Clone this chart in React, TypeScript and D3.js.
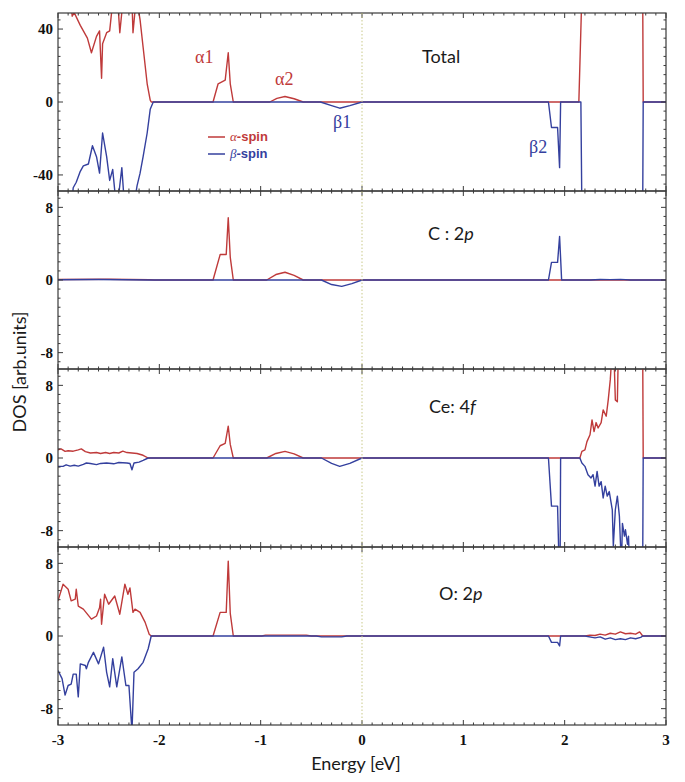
import { useEffect, useRef } from "react";
import * as d3 from "d3";

type Pt = [number, number];

// energy [eV], DOS value; values past the axis limit are clipped by the panel
const totalAlpha: Pt[] = [
  [-3.0, 60], [-2.88, 60], [-2.86, 47], [-2.84, 49], [-2.78, 42], [-2.71, 35], [-2.67, 27],
  [-2.62, 36], [-2.59, 39], [-2.57, 13], [-2.56, 32], [-2.52, 38], [-2.49, 39], [-2.46, 55],
  [-2.41, 55], [-2.39, 38], [-2.36, 55], [-2.27, 55], [-2.26, 38], [-2.24, 50], [-2.21, 52],
  [-2.19, 45], [-2.16, 30], [-2.12, 10], [-2.09, 1], [-2.08, 0], [-1.47, 0], [-1.42, 10],
  [-1.35, 12], [-1.32, 27], [-1.30, 10], [-1.27, 0], [-0.91, 0], [-0.84, 2], [-0.76, 3],
  [-0.67, 1.8], [-0.58, 0], [2.14, 0], [2.17, 60], [2.77, 60], [2.775, 0], [3.0, 0],
];
const totalBeta: Pt[] = [
  [-3.0, -60], [-2.87, -60], [-2.85, -47], [-2.82, -44], [-2.78, -38], [-2.75, -35],
  [-2.70, -34], [-2.66, -24], [-2.62, -30], [-2.59, -39], [-2.56, -17], [-2.52, -30],
  [-2.49, -43], [-2.46, -37], [-2.42, -60], [-2.37, -36], [-2.34, -60], [-2.26, -60],
  [-2.22, -46], [-2.19, -39], [-2.16, -30], [-2.12, -17], [-2.09, -4], [-2.06, 0],
  [-0.41, 0], [-0.30, -2], [-0.22, -3.4], [-0.12, -2], [0, 0], [1.84, 0], [1.87, -14],
  [1.93, -14], [1.95, -36], [1.96, 0], [2.16, 0], [2.17, -60], [2.77, -60], [2.775, 0], [3.0, 0],
];
const c2pAlpha: Pt[] = [
  [-3.0, 0.05], [-2.5, 0.08], [-2.1, 0.02], [-2.05, 0], [-1.47, 0], [-1.40, 2.8], [-1.34, 2.8],
  [-1.32, 6.85], [-1.30, 2.5], [-1.27, 0], [-0.94, 0], [-0.85, 0.6], [-0.76, 0.85],
  [-0.67, 0.5], [-0.58, 0], [3.0, 0],
];
const c2pBeta: Pt[] = [
  [-3.0, 0.03], [-2.6, 0.06], [-2.1, 0], [-0.40, 0], [-0.30, -0.5], [-0.20, -0.7],
  [-0.10, -0.4], [0, 0], [1.84, 0], [1.87, 1.94], [1.93, 1.94], [1.95, 4.8], [1.97, 0],
  [2.25, 0], [2.35, 0.06], [2.45, 0.04], [2.55, 0.07], [2.65, 0], [3.0, 0],
];
const ce4fAlpha: Pt[] = [
  [-3.0, 0.9], [-2.97, 1.0], [-2.93, 0.73], [-2.90, 0.8], [-2.85, 0.75], [-2.80, 0.9],
  [-2.77, 1.0], [-2.73, 0.7], [-2.68, 0.55], [-2.62, 0.6], [-2.58, 0.5], [-2.53, 0.6],
  [-2.49, 0.5], [-2.45, 0.6], [-2.40, 0.55], [-2.36, 0.75], [-2.32, 0.6], [-2.27, 0.55],
  [-2.22, 0.5], [-2.16, 0.3], [-2.11, 0], [-1.47, 0], [-1.40, 1.35], [-1.35, 1.6],
  [-1.32, 3.5], [-1.30, 1.5], [-1.27, 0], [-0.94, 0], [-0.85, 0.5], [-0.76, 0.73],
  [-0.67, 0.45], [-0.58, 0], [2.15, 0], [2.17, 0.73], [2.20, 0.9], [2.22, 1.8], [2.25, 2.56],
  [2.27, 4.2], [2.29, 2.9], [2.31, 3.9], [2.33, 3.3], [2.36, 3.9], [2.38, 5.3], [2.41, 4.6],
  [2.43, 6.4], [2.45, 8.6], [2.47, 12], [2.485, 12], [2.50, 6.4], [2.52, 6.2], [2.53, 12],
  [2.77, 12], [2.775, 0], [3.0, 0],
];
const ce4fBeta: Pt[] = [
  [-3.0, -0.92], [-2.95, -0.92], [-2.92, -0.75], [-2.88, -0.9], [-2.84, -0.8], [-2.80, -0.9],
  [-2.75, -0.7], [-2.72, -0.55], [-2.68, -0.6], [-2.62, -0.73], [-2.58, -0.6], [-2.52, -0.55],
  [-2.45, -0.64], [-2.40, -0.5], [-2.32, -0.55], [-2.29, -0.6], [-2.27, -1.3], [-2.25, -0.55],
  [-2.20, -0.45], [-2.16, -0.26], [-2.11, 0], [-0.40, 0], [-0.30, -0.6], [-0.22, -0.92],
  [-0.12, -0.6], [0, 0], [1.84, 0], [1.87, -5.3], [1.93, -5.3], [1.945, -12], [1.955, -12],
  [1.96, 0], [2.15, 0], [2.17, -0.55], [2.20, -0.92], [2.23, -1.84], [2.26, -2.2],
  [2.28, -1.84], [2.30, -3.1], [2.32, -1.47], [2.34, -3.1], [2.36, -2.6], [2.38, -4.4],
  [2.40, -3.1], [2.42, -4.2], [2.44, -3.7], [2.47, -5.7], [2.48, -9.7], [2.50, -5.7],
  [2.52, -4.2], [2.54, -6.4], [2.56, -12], [2.57, -7.2], [2.59, -8.6], [2.60, -7.9],
  [2.62, -9.5], [2.63, -8.6], [2.64, -12], [2.77, -12], [2.775, 0], [3.0, 0],
];
const o2pAlpha: Pt[] = [
  [-3.0, 3.87], [-2.95, 5.7], [-2.90, 5.15], [-2.87, 3.87], [-2.83, 4.05], [-2.82, 5.15],
  [-2.80, 3.3], [-2.75, 2.96], [-2.67, 1.86], [-2.62, 2.2], [-2.59, 3.1], [-2.58, 4.05],
  [-2.57, 1.3], [-2.54, 4.6], [-2.50, 3.5], [-2.44, 4.4], [-2.39, 2.4], [-2.34, 5.7],
  [-2.31, 4.6], [-2.29, 5.3], [-2.26, 2.6], [-2.24, 2.96], [-2.19, 2.6], [-2.14, 1.5],
  [-2.10, 0.2], [-2.08, 0], [-1.47, 0], [-1.40, 2.6], [-1.34, 2.6], [-1.32, 8.25],
  [-1.30, 2.5], [-1.27, 0], [-0.99, 0], [-0.95, 0.1], [-0.55, 0.1], [-0.5, 0], [2.2, 0],
  [2.25, 0.1], [2.3, 0.05], [2.35, 0.2], [2.4, 0.1], [2.45, 0.3], [2.5, 0.2], [2.55, 0.45],
  [2.6, 0.25], [2.65, 0.3], [2.7, 0.2], [2.74, 0.45], [2.77, 0], [3.0, 0],
];
const o2pBeta: Pt[] = [
  [-3.0, -3.8], [-2.96, -4.7], [-2.93, -6.5], [-2.90, -5.45], [-2.87, -5.3], [-2.85, -4.2],
  [-2.82, -4.2], [-2.80, -6.7], [-2.78, -3.07], [-2.73, -3.25], [-2.72, -3.6], [-2.70, -2.9],
  [-2.65, -1.8], [-2.60, -3.07], [-2.55, -1.24], [-2.52, -4.0], [-2.49, -5.6], [-2.46, -2.5],
  [-2.42, -5.6], [-2.37, -2.3], [-2.33, -5.45], [-2.30, -5.45], [-2.27, -10.5], [-2.25, -4.0],
  [-2.21, -3.6], [-2.16, -2.9], [-2.11, -1.4], [-2.08, 0], [-0.45, 0], [-0.40, -0.1],
  [-0.2, -0.1], [-0.15, 0], [1.84, 0], [1.87, -0.7], [1.93, -0.7], [1.95, -1.1], [1.96, 0],
  [2.2, 0], [2.3, -0.2], [2.35, -0.1], [2.4, -0.35], [2.45, -0.2], [2.5, -0.4], [2.55, -0.3],
  [2.6, -0.4], [2.65, -0.2], [2.7, -0.3], [2.75, -0.15], [2.77, 0], [3.0, 0],
];

const panelNames = ["Total", "C : 2", "Ce: 4", "O: 2"];
const panelOrbitals = ["", "p", "f", "p"];
const yLimits = [48.8, 9.8, 9.8, 9.8];
const yTicks = [[-40, 0, 40], [-8, 0, 8], [-8, 0, 8], [-8, 0, 8]];
const yMinorSteps = [5, 1, 1, 1];
const xTicks = [-3, -2, -1, 0, 1, 2, 3];

const RED = "#bf3a3a";
const BLUE = "#34409e";

const App = () => {
  const svgRef = useRef<SVGSVGElement>(null);

  useEffect(() => {
    const svg = d3.select(svgRef.current);
    svg.selectAll("*").remove();

    const left = 58, right = 666, top = 13, ph = 178;
    const x = d3.scaleLinear().domain([-3, 3]).range([left, right]);
    const minorX = d3.range(-30, 31).map((d) => d / 10);

    const series = [
      [totalAlpha, totalBeta],
      [c2pAlpha, c2pBeta],
      [ce4fAlpha, ce4fBeta],
      [o2pAlpha, o2pBeta],
    ];

    series.forEach(([alpha, beta], i) => {
      const y0 = top + i * ph;
      const lim = yLimits[i];
      const y = d3.scaleLinear().domain([-lim, lim]).range([y0 + ph, y0]);
      const g = svg.append("g");

      g.append("clipPath").attr("id", "clip" + i)
        .append("rect").attr("x", left).attr("y", y0).attr("width", right - left).attr("height", ph);

      const line = d3.line<Pt>().x((d) => x(d[0])).y((d) => y(d[1]));
      const lines = g.append("g").attr("clip-path", `url(#clip${i})`);
      lines.append("path").datum(alpha).attr("d", line).attr("fill", "none")
        .attr("stroke", RED).attr("stroke-width", 1.4).attr("stroke-linejoin", "round");
      lines.append("path").datum(beta).attr("d", line).attr("fill", "none")
        .attr("stroke", BLUE).attr("stroke-width", 1.4).attr("stroke-linejoin", "round");

      // frame
      g.append("rect").attr("x", left).attr("y", y0).attr("width", right - left).attr("height", ph)
        .attr("fill", "none").attr("stroke", "#3a3a3a").attr("stroke-width", 1.2);

      // x ticks, inward at top and bottom
      const tk = g.append("g").attr("stroke", "#3a3a3a").attr("stroke-width", 1);
      minorX.forEach((v) => {
        const len = Math.abs(v - Math.round(v)) < 1e-6 ? 5 : 2.5;
        tk.append("line").attr("x1", x(v)).attr("x2", x(v)).attr("y1", y0 + ph).attr("y2", y0 + ph - len);
        tk.append("line").attr("x1", x(v)).attr("x2", x(v)).attr("y1", y0).attr("y2", y0 + len);
      });
      // y ticks
      const step = yMinorSteps[i];
      d3.range(-Math.floor(lim / step), Math.floor(lim / step) + 1).map((k) => k * step).forEach((v) => {
        const major = yTicks[i].includes(v);
        const len = major ? 5 : 2.5;
        tk.append("line").attr("x1", left).attr("x2", left + len).attr("y1", y(v)).attr("y2", y(v));
        tk.append("line").attr("x1", right).attr("x2", right - len).attr("y1", y(v)).attr("y2", y(v));
      });
      g.append("g").selectAll("text").data(yTicks[i]).join("text")
        .attr("x", left - 5).attr("y", (d) => y(d)).attr("dy", "0.35em")
        .attr("text-anchor", "end").attr("font-family", "Liberation Serif")
        .attr("font-weight", "bold").attr("font-size", 15).attr("fill", "#111")
        .text((d) => String(d));
    });

    // Fermi level
    svg.append("line").attr("x1", x(0)).attr("x2", x(0)).attr("y1", top).attr("y2", top + 4 * ph)
      .attr("stroke", "#c9c98a").attr("stroke-width", 1).attr("stroke-dasharray", "1.5,2");

    // x tick labels
    svg.append("g").selectAll("text").data(xTicks).join("text")
      .attr("x", (d) => x(d)).attr("y", 745).attr("text-anchor", "middle")
      .attr("font-family", "Liberation Serif").attr("font-weight", "bold").attr("font-size", 15)
      .attr("fill", "#111").text((d) => String(d));

    // panel labels
    const labelPos = [[422, 63], [428, 240], [429, 413], [439, 600]];
    panelNames.forEach((n, i) => {
      const t = svg.append("text").attr("x", labelPos[i][0]).attr("y", labelPos[i][1])
        .attr("font-family", "Lato").attr("font-size", 18).attr("fill", "#1a1a1a").text(n);
      t.append("tspan").attr("font-style", "italic").text(panelOrbitals[i]);
    });

    // state labels
    const states = [
      { t: "α1", x: 195, y: 63, c: RED },
      { t: "α2", x: 275, y: 85, c: RED },
      { t: "β1", x: 333, y: 128, c: BLUE },
      { t: "β2", x: 529, y: 153, c: BLUE },
    ];
    svg.append("g").selectAll("text").data(states).join("text")
      .attr("x", (d) => d.x).attr("y", (d) => d.y).attr("fill", (d) => d.c)
      .attr("font-family", "Liberation Serif").attr("font-size", 18).text((d) => d.t);

    // legend
    const legend = [
      { g: "α", c: RED, y: 137 },
      { g: "β", c: BLUE, y: 154 },
    ];
    legend.forEach((d) => {
      svg.append("line").attr("x1", 208).attr("x2", 225).attr("y1", d.y).attr("y2", d.y)
        .attr("stroke", d.c).attr("stroke-width", 1.5);
      const t = svg.append("text").attr("x", 230).attr("y", d.y + 4).attr("fill", d.c)
        .attr("font-size", 13);
      t.append("tspan").attr("font-family", "Liberation Serif").attr("font-style", "italic").text(d.g);
      t.append("tspan").attr("font-family", "Liberation Sans").attr("font-weight", "bold").text("-spin");
    });

    // axis titles
    svg.append("text").attr("x", 356).attr("y", 770).attr("text-anchor", "middle")
      .attr("font-family", "Lato").attr("font-size", 18).attr("fill", "#1a1a1a").text("Energy [eV]");
    svg.append("text").attr("transform", "translate(26,372) rotate(-90)").attr("text-anchor", "middle")
      .attr("font-family", "Lato").attr("font-size", 18).attr("fill", "#1a1a1a").text("DOS [arb.units]");
  }, []);

  return (
    <svg ref={svgRef} width={685} height={782}
      style={{ position: "absolute", left: 0, top: 0, background: "#fff" }} />
  );
};

export default App;
